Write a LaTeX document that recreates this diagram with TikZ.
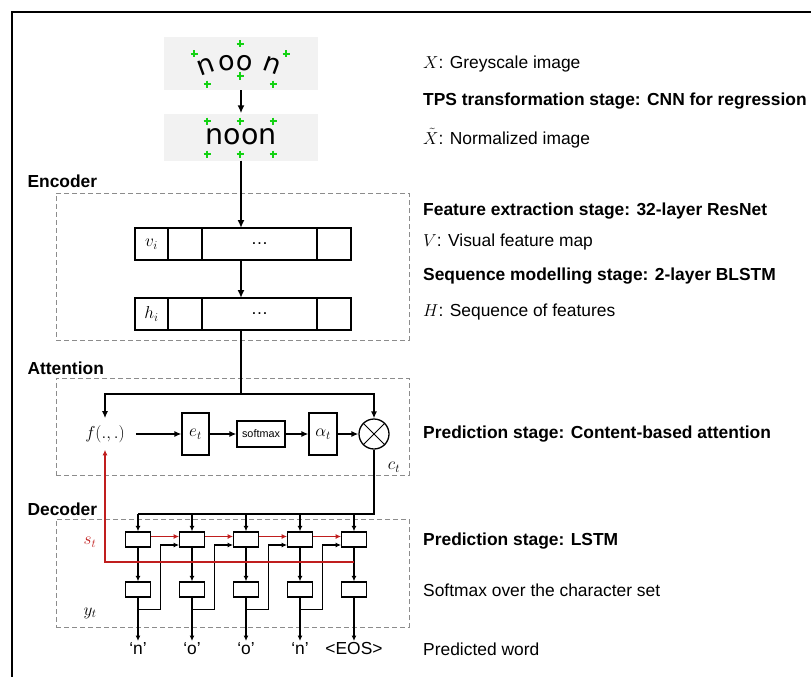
\documentclass[tikz,border=0pt]{standalone}
\usepackage{fontspec}
\setmainfont{Liberation Sans}
\newfontfamily\noonfont{DejaVu Sans}
\usepackage{xcolor}
\usetikzlibrary{arrows.meta,positioning}
\definecolor{imggray}{RGB}{242,242,242}
\definecolor{stred}{RGB}{192,30,30}
\definecolor{cpgreen}{RGB}{20,210,20}

\begin{document}
\begin{tikzpicture}[
  x=1pt,y=-1pt,
  font=\fontsize{17.4}{20}\selectfont,
  imgbox/.style={fill=imggray,minimum width=154pt,inner sep=0pt},
  noon/.style={font=\noonfont\fontsize{28.5}{30}\selectfont,inner sep=0pt},
  rawch/.style={noon,font=\noonfont\fontsize{27}{30}\selectfont},
  cpt/.style={draw=cpgreen,line width=2pt},
  cell/.style={draw,line width=1.3pt,minimum height=32pt,outer sep=0pt,inner sep=0pt},
  opbox/.style={draw,line width=1.2pt,inner sep=0pt},
  lstm/.style={draw,line width=1.3pt,minimum width=24.5pt,minimum height=15pt,inner sep=0pt},
  stage/.style={draw=black!45,line width=1pt,dash pattern=on 5pt off 3pt,inner sep=0pt},
  grp/.style={anchor=west,font=\fontsize{17.4}{20}\selectfont\bfseries},
  note/.style={anchor=west,inner sep=0pt},
  notebf/.style={note,font=\fontsize{17.4}{20}\selectfont\bfseries},
  arr/.style={-{Latex[length=8pt,width=7pt]},line width=2pt},
  aarr/.style={-{Latex[length=7pt,width=6pt]},line width=1.3pt},
  darr/.style={-{Latex[length=5.5pt,width=5pt]},line width=1.2pt},
  redarr/.style={darr,draw=stred,color=stred}
]
\useasboundingbox (0,0) rectangle (811,677);
\draw[line width=1.5pt] (811,12) -- (12,12) -- (12,677);

% input image and TPS output
\node[imgbox,minimum height=53pt] (raw) at (241,63.5) {};
\node[rawch,rotate=20] (rn1) at (206,66) {n};
\node[rawch,rotate=7] (ro1) at (227,63.5) {o};
\node[rawch,rotate=-7] (ro2) at (245,63) {o};
\node[rawch,rotate=-20] (rn2) at (272.5,65.5) {n};
\node[imgbox,minimum height=47pt,noon] (norm) at (241,137) {noon};
\foreach \x/\y in {194/54,240/44,286/54,207/84,240/76,273/84,207/121,240/121,273/121,207/154,240/154,273/154}
  \draw[cpt] (\x-3.5,\y) -- (\x+3.5,\y) (\x,\y-3.5) -- (\x,\y+3.5);
\draw[arr] (raw) -- (norm);

% encoder
\node[stage,minimum width=353pt,minimum height=147pt] (enc) at (232.5,266.5) {};
\node[grp] (enclab) at (24,181) {Encoder};
\node[cell,minimum width=33pt] (v1) at (151.5,244) {$v_i$};
\node[cell,minimum width=34pt,right=0pt of v1] (v2) {};
\node[cell,minimum width=115pt,right=0pt of v2] (v3) {\dots};
\node[cell,minimum width=34pt,right=0pt of v3] (v4) {};
\node[cell,minimum width=33pt] (h1) at (151.5,314) {$h_i$};
\node[cell,minimum width=34pt,right=0pt of h1] (h2) {};
\node[cell,minimum width=115pt,right=0pt of h2] (h3) {\dots};
\node[cell,minimum width=34pt,right=0pt of h3] (h4) {};
\draw[arr] (norm) -- (norm |- v3.north);
\draw[arr] (norm |- v3.south) -- (norm |- h3.north);

% attention
\node[stage,minimum width=353pt,minimum height=97pt] (att) at (232.5,426.5) {};
\node[grp] (attlab) at (24,368) {Attention};
\coordinate (split) at (241,394);
\draw[line width=2pt] (norm |- h3.south) -- (split);
\node[inner xsep=11pt,inner ysep=7pt] (f) at (105,434) {$f(.,.)$};
\node[opbox,minimum width=27pt,minimum height=42pt] (e) at (195.5,434) {$e_t$};
\node[opbox,minimum width=48pt,minimum height=26pt,font=\fontsize{10.8}{12}\selectfont] (sm) at (261,434) {softmax};
\node[opbox,minimum width=28pt,minimum height=42pt] (al) at (323,434) {$\alpha_t$};
\node[draw,circle,line width=1.3pt,minimum size=30pt,inner sep=0pt] (ot) at (374,434) {};
\draw[line width=1pt] (ot.north west) -- (ot.south east) (ot.north east) -- (ot.south west);
\node (ct) at (394,467) {$c_t$};
\draw[aarr] (split) -| (f);
\draw[aarr] (split) -| (ot);
\draw[aarr] (f) -- (e);
\draw[aarr] (e) -- (sm);
\draw[aarr] (sm) -- (al);
\draw[aarr] (al) -- (ot);

% decoder
\node[stage,minimum width=353pt,minimum height=108pt] (dec) at (232.5,573) {};
\node[grp] (declab) at (24,509) {Decoder};
\foreach \i/\cx/\ch in {1/138/‘n’,2/192/‘o’,3/246/‘o’,4/300/‘n’,5/354/<EOS>} {
  \node[lstm] (s\i) at (\cx,539.5) {};
  \node[lstm] (b\i) at (\cx,589.5) {};
  \node[anchor=north,inner sep=1.5pt] (o\i) at (\cx,641) {\ch};
  \draw[darr] (s\i) -- (b\i);
  \draw[darr] (b\i) -- (o\i);
}
\coordinate (dtop) at (374,514);
\draw[line width=1.2pt] (ot) |- (s1 |- dtop);
\foreach \i in {1,...,5}
  \draw[darr] (s\i |- dtop) -- (s\i);
\foreach \i [count=\j from 2] in {1,...,4} {
  \draw[redarr] ([yshift=3pt]s\i.east) -- ([yshift=3pt]s\j.west);
  \draw[darr] ([yshift=-12pt]b\i.south) -| ([xshift=-19pt,yshift=-5.5pt]s\j.west) -- ([yshift=-5.5pt]s\j.west);
}
\coordinate (sfb) at (354,562);
\draw[redarr] (sfb) -| (f);
\node[text=stred] (st) at (90,542) {$s_t$};
\node (yt) at (90,613) {$y_t$};

% stage notes
\node[note] (n1) at (423,64) {$X$: Greyscale image};
\node[notebf] (n2) at (423,101) {TPS transformation stage: CNN for regression};
\node[note] (n3) at (423,138) {$\tilde{X}$: Normalized image};
\node[notebf] (n4) at (423,211) {Feature extraction stage: 32-layer ResNet};
\node[note] (n5) at (423,242) {$V$: Visual feature map};
\node[notebf] (n6) at (423,276) {Sequence modelling stage: 2-layer BLSTM};
\node[note] (n7) at (423,312) {$H$: Sequence of features};
\node[notebf] (n8) at (423,434) {Prediction stage: Content-based attention};
\node[notebf] (n9) at (423,541) {Prediction stage: LSTM};
\node[note] (n10) at (423,590) {Softmax over the character set};
\node[note] (n11) at (423,649) {Predicted word};
\end{tikzpicture}
\end{document}
